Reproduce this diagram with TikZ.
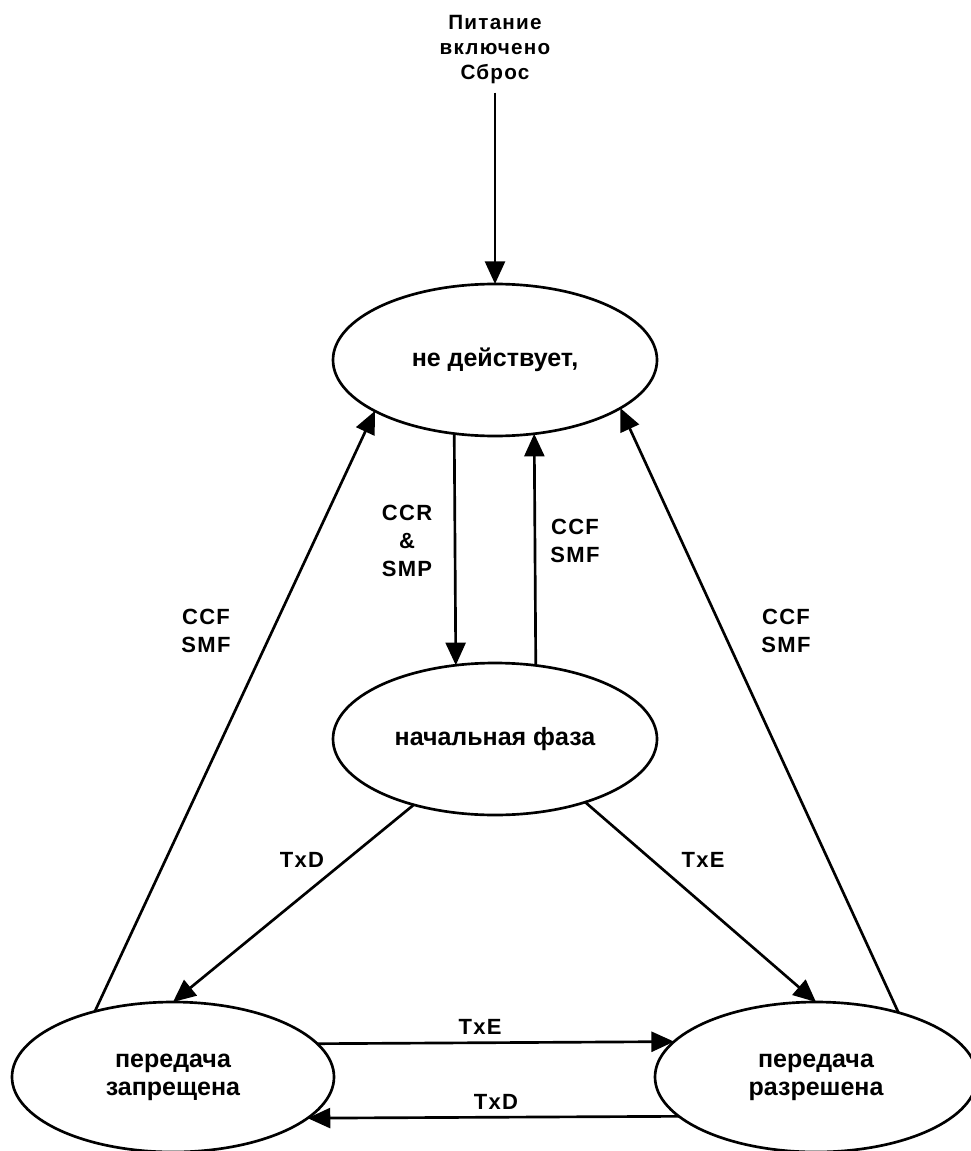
\documentclass[tikz,border=0pt]{standalone}
\usepackage{fontspec}
\setmainfont{Liberation Sans}
\newfontfamily\lblfont[LetterSpace=6]{Liberation Sans}
\usetikzlibrary{shapes.geometric,arrows.meta}
\begin{document}
\begin{tikzpicture}[x=0.75pt,y=-0.75pt,
  state/.style={ellipse,draw,line width=2pt,minimum width=243pt,minimum height=114pt,
    inner sep=0pt,outer sep=0pt,align=center,
    font=\bfseries\fontsize{18.75}{21}\selectfont},
  lowstate/.style={state,minimum width=241.5pt,minimum height=112.5pt},
  lbl/.style={font=\lblfont\bfseries\fontsize{16.5}{21}\selectfont,align=center,inner sep=0pt},
  toplbl/.style={font=\lblfont\bfseries\fontsize{15.5}{18.75}\selectfont,align=center,inner sep=0pt},
  arr/.style={line width=2pt,-{Triangle[length=17pt,width=15pt]}},
  ln/.style={line width=2pt}]
\fill[white] (0,0) rectangle (970,1151);
\useasboundingbox (0,0) rectangle (970,1151);

\node[state] (off) at (495,360) {не действует,};
\node[state] (init) at (495,739) {начальная фаза};
\node[lowstate] (dis) at (173,1077) {передача\\запрещена};
\node[lowstate] (en) at (816,1077) {передача\\разрешена};
\node[toplbl] (pwr) at (495,50) {Питание\\включено\\Сброс};

% connectors
\draw[arr,shorten <=6pt] (pwr.south) -- (off.north);
\draw[arr] (off.241.5) -- (init.118.5);
\draw[arr] (init.61.5) -- (off.298.5);
\draw[arr] (dis.140.2) -- (off.203.1);
\draw[arr] (en.38.4) -- (off.339.7);
\draw[arr] (init.219.5) -- (dis.north);
\draw[arr] (init.325.2) -- (en.north);
\draw[arr] (dis.13.8) -- (en.166.2);
\draw[arr] (en.196.4) -- (dis.343.6);

% labels
\node[lbl] (l1) at (407,541) {CCR\\\&\\SMP};
\node[lbl] (l2) at (575,541) {CCF\\SMF};
\node[lbl] (l3) at (206,631) {CCF\\SMF};
\node[lbl] (l4) at (786,631) {CCF\\SMF};
\node[lbl] (l5) at (302,860) {TxD};
\node[lbl] (l6) at (703,860) {TxE};
\node[lbl] (l7) at (480,1027) {TxE};
\node[lbl] (l8) at (496,1102) {TxD};
\end{tikzpicture}
\end{document}
